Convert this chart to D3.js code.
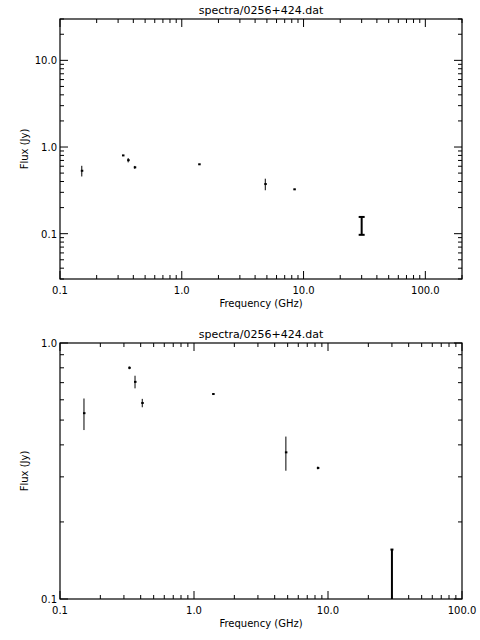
<!DOCTYPE html>
<html>
<head>
<script src="https://d3js.org/d3.v7.min.js"></script>
<style>
  body { margin: 0; background: #fff; }
  text { font-family: "DejaVu Sans", sans-serif; font-size: 10px; fill: #000; }
</style>
</head>
<body>
<div id="chart"></div>
<script>
  // spectrum data
  var title = "spectra/0256+424.dat";
  var freq = [0.151, 0.329, 0.363, 0.411, 1.39, 4.85, 8.4, 30.0];
  var flux = [0.532, 0.80, 0.705, 0.583, 0.632, 0.374, 0.325, 0.1265];
  var err  = [0.075, 0.01, 0.04, 0.022, 0.004, 0.057, 0.004, 0.0295];
  var xTicks = [0.1, 1, 10, 100];
  var yTicksTop = [0.1, 1, 10];
  var yTicksBottom = [0.1, 1];

  var svg = d3.select("#chart").append("svg")
    .attr("width", 480).attr("height", 640);

  var fmt = d3.format(".1f");

  function minors(lo, hi) {
    var out = [];
    for (var e = Math.floor(Math.log10(lo)); e <= Math.ceil(Math.log10(hi)); e++)
      for (var m = 1; m < 10; m++) {
        var v = m * Math.pow(10, e);
        if (v >= lo * 0.999 && v <= hi * 1.001) out.push(v);
      }
    return out;
  }

  function panel(top, h, xDom, yDom, yMajor, capped) {
    var left = 60, w = 402;
    var x = d3.scaleLog().domain(xDom).range([left, left + w]);
    var y = d3.scaleLog().domain(yDom).range([top + h, top]);
    var g = svg.append("g");

    g.append("rect").attr("x", left).attr("y", top).attr("width", w).attr("height", h)
      .attr("fill", "none").attr("stroke", "#000").attr("stroke-width", 1.2);

    var xm = minors(xDom[0], xDom[1]);
    var ym = minors(yDom[0], yDom[1]);
    function isMajor(v) { return Math.abs(Math.log10(v) - Math.round(Math.log10(v))) < 1e-6; }

    xm.forEach(function (v) {
      var L = isMajor(v) ? 8 : 4, px = x(v);
      g.append("line").attr("x1", px).attr("x2", px).attr("y1", top + h).attr("y2", top + h - L).attr("stroke", "#000");
      g.append("line").attr("x1", px).attr("x2", px).attr("y1", top).attr("y2", top + L).attr("stroke", "#000");
    });
    ym.forEach(function (v) {
      var L = isMajor(v) ? 8 : 4, py = y(v);
      g.append("line").attr("y1", py).attr("y2", py).attr("x1", left).attr("x2", left + L).attr("stroke", "#000");
      g.append("line").attr("y1", py).attr("y2", py).attr("x1", left + w).attr("x2", left + w - L).attr("stroke", "#000");
    });

    xTicks.forEach(function (v) {
      g.append("text").attr("x", x(v)).attr("y", top + h + 15).attr("text-anchor", "middle").text(fmt(v));
    });
    yMajor.forEach(function (v) {
      g.append("text").attr("x", left - 3).attr("y", y(v) + 4).attr("text-anchor", "end").text(fmt(v));
    });

    g.append("text").attr("x", left + w / 2).attr("y", top - 5).attr("text-anchor", "middle")
      .style("font-size", "11px").text(title);
    g.append("text").attr("x", left + w / 2).attr("y", top + h + 28).attr("text-anchor", "middle").text("Frequency (GHz)");
    g.append("text").attr("transform", "translate(28," + (top + h / 2) + ") rotate(-90)")
      .attr("text-anchor", "middle").text("Flux (Jy)");

    var clip = "clip" + top;
    svg.append("clipPath").attr("id", clip).append("rect")
      .attr("x", left).attr("y", top).attr("width", w).attr("height", h);
    var pts = svg.append("g").attr("clip-path", "url(#" + clip + ")");

    freq.forEach(function (f, i) {
      var px = x(f), lo = Math.max(flux[i] - err[i], yDom[0] * 0.5), hi = flux[i] + err[i];
      var last = i === freq.length - 1;
      pts.append("line").attr("x1", px).attr("x2", px).attr("y1", y(lo)).attr("y2", y(hi))
        .attr("stroke", "#000").attr("stroke-width", last ? 2 : 1);
      if (capped && last) {
        [lo, hi].forEach(function (v) {
          pts.append("line").attr("x1", px - 3).attr("x2", px + 3).attr("y1", y(v)).attr("y2", y(v))
            .attr("stroke", "#000").attr("stroke-width", 2);
        });
      } else if (last) {
        pts.append("line").attr("x1", px - 1.5).attr("x2", px + 1.5).attr("y1", y(hi)).attr("y2", y(hi))
          .attr("stroke", "#000").attr("stroke-width", 2);
      } else {
        pts.append("rect").attr("x", px - 1).attr("y", y(flux[i]) - 1).attr("width", 2.5).attr("height", 2).attr("fill", "#000");
      }
    });
  }

  panel(19, 260, [0.1, 200], [0.03, 30], yTicksTop, true);
  panel(343, 256, [0.1, 100], [0.1, 1], yTicksBottom, false);
</script>
</body>
</html>
